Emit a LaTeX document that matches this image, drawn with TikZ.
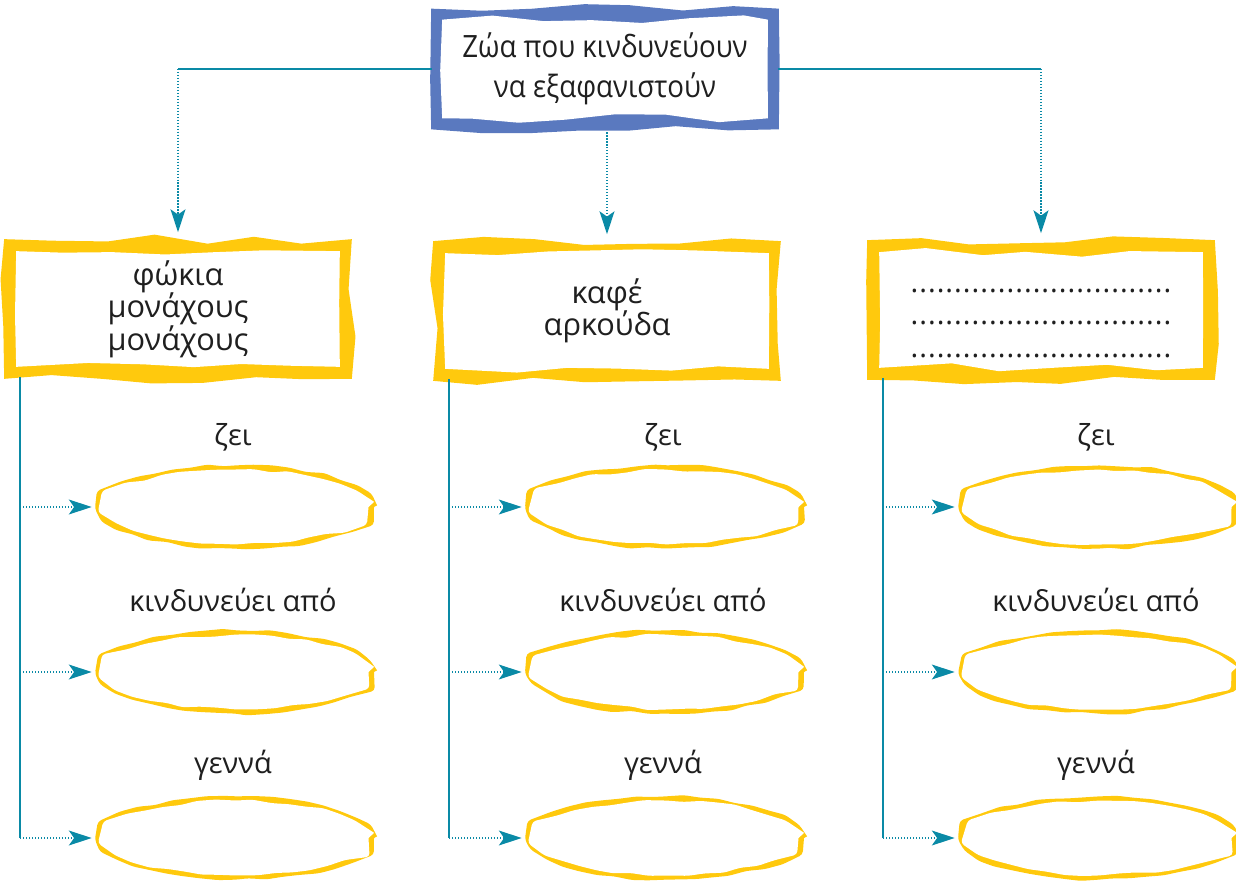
\documentclass[tikz,border=0pt]{standalone}
\usepackage{fontspec}
\setmainfont{Open Sans}
\definecolor{FrameBlue}{HTML}{5A79BF}
\definecolor{FrameYellow}{HTML}{FFC90D}
\definecolor{LinkTeal}{HTML}{0A8AA6}
\colorlet{InkText}{black!88}
\usetikzlibrary{calc, arrows.meta, decorations.pathmorphing, backgrounds, shapes.geometric}

\tikzset{
  rough/.style={decorate, decoration={random steps, segment length=1cm, amplitude=2.6pt}},
  roughring/.style={decorate, decoration={random steps, segment length=0.35cm, amplitude=0.9pt}, rounded corners=2pt},
  trunk/.style={LinkTeal, line width=1pt},
  twig/.style={LinkTeal, line width=0.7pt, dash pattern={on 0.7pt off 1pt},
    -{Stealth[length=13pt, width=8.5pt, inset=3pt]}},
  headline/.style={text=InkText, font=\fontsize{17.5}{22.5}\selectfont\addfontfeature{FakeStretch=0.9},
    align=center, minimum width=6.5cm, minimum height=1.96cm, inner sep=0pt},
  animal/.style={text=InkText, font=\fontsize{17.5}{18.5}\selectfont, align=center,
    minimum width=6.46cm, minimum height=2.3cm, inner sep=0pt},
  cue/.style={text=InkText, font=\fontsize{16.5}{19}\selectfont},
  slot/.style={ellipse, minimum width=5.44cm, minimum height=1.6cm, inner sep=0pt},
}

\newcommand{\jagframe}[3]{% node, colour, frame width
  \fill[#2, rough] ($(#1.south west)+(-#3,#3)$) rectangle ($(#1.north east)+(#3,-#3)$);
  \fill[white, rough] (#1.south west) rectangle (#1.north east);}
\newcommand{\jagring}[1]{%
  \fill[FrameYellow, roughring] (#1) ellipse [x radius=138, y radius=41.5];
  \fill[white, roughring] (#1) ellipse [x radius=132.5, y radius=37];}
\newcommand{\dotrow}{{\addfontfeature{LetterSpace=3.5}..............................}}

\begin{document}
\begin{tikzpicture}[x=0.02cm, y=-0.02cm]
\pgfmathsetseed{7}
\useasboundingbox (0,0) rectangle (1236,881);

\node[headline] (top) at (605,69) {Ζώα που κινδυνεύουν\\να εξαφανιστούν};

\node[animal] (seal) at (178,309) {φώκια\\μονάχους\\μονάχους};
\node[animal] (bear) at (607,311) {καφέ\\αρκούδα};
\node[animal, font=\fontsize{16.5}{18.3}\selectfont] (blank) at (1041,310)
  {\rule{0pt}{22.5pt}\dotrow\\\dotrow\\\dotrow\rule[-5.5pt]{0pt}{5.5pt}};

\begin{scope}[on background layer]
  \jagframe{top}{FrameBlue}{11}
  \jagframe{seal}{FrameYellow}{12}
  \jagframe{bear}{FrameYellow}{12}
  \jagframe{blank}{FrameYellow}{12}
\end{scope}

% from the headline down to the three boxes
\coordinate (tl) at (seal.north |- top.west);
\coordinate (tr) at (blank.north |- top.east);
\draw[trunk, shorten <=0.2cm] (top.west) -- (tl);
\draw[trunk, shorten <=0.2cm] (top.east) -- (tr);
\draw[twig, shorten >=0.38cm] (tl) -- (seal.north);
\draw[twig, shorten >=0.38cm] (tr) -- (blank.north);
\draw[twig, shorten <=0.28cm, shorten >=0.38cm] (bear.north |- top.south) -- (bear.north);

\foreach \col/\x in {seal/236, bear/666, blank/1099} {
  \node[cue] (\col-lives) at (\x-3,437) {ζει};
  \node[cue] (\col-risk) at (\x-3,600) {κινδυνεύει από};
  \node[cue] (\col-born) at (\x-3,765) {γεννά};
  \node[slot] (\col-1) at (\x,507) {};
  \node[slot] (\col-2) at (\x,672) {};
  \node[slot] (\col-3) at (\x,838) {};
  \begin{scope}[on background layer]
    \jagring{\col-1}
    \jagring{\col-2}
    \jagring{\col-3}
  \end{scope}
  \coordinate (\col-root) at ($(\col.south west)+(4,10)$);
  \draw[trunk] (\col-root) -- (\col-root |- \col-3);
  \draw[twig, shorten >=0.16cm] (\col-root |- \col-1) -- (\col-1.west);
  \draw[twig, shorten >=0.16cm] (\col-root |- \col-2) -- (\col-2.west);
  \draw[twig, shorten >=0.16cm] (\col-root |- \col-3) -- (\col-3.west);
}

\end{tikzpicture}
\end{document}
